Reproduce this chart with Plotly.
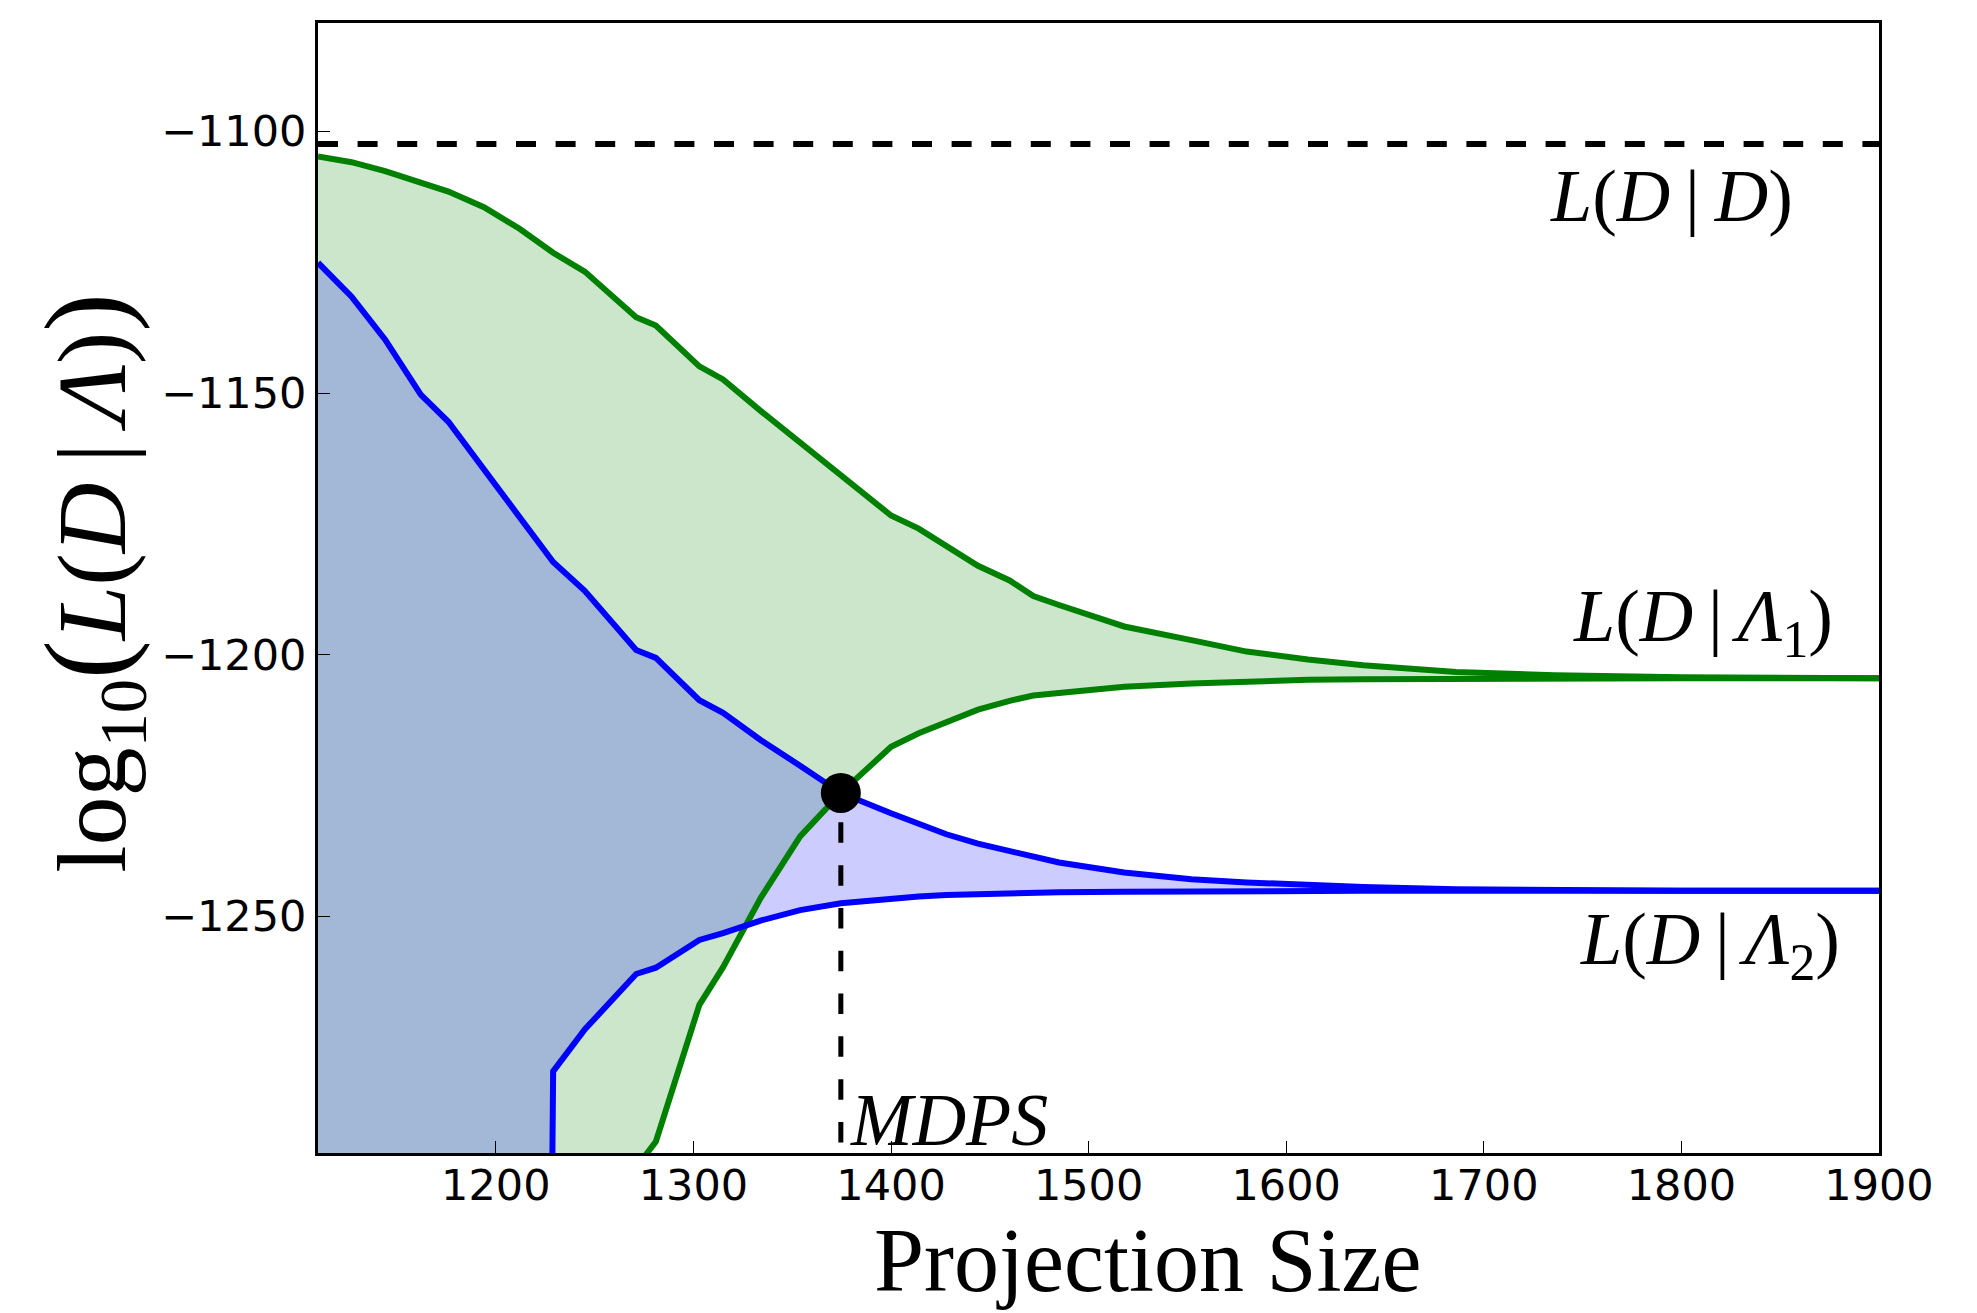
import plotly.graph_objects as go

# ---------------- data ----------------
proj_size = [1110, 1127, 1144, 1162, 1176, 1194, 1212, 1229, 1245, 1271, 1281,
             1303, 1315, 1334, 1354, 1374.6, 1400, 1414, 1428, 1444, 1460, 1472,
             1485, 1518, 1552, 1580, 1611, 1639, 1686, 1736, 1800, 1900]

lam1_upper = [-1104.8, -1105.9, -1107.6, -1109.8, -1111.5, -1114.5, -1118.6, -1123.2,
              -1126.8, -1135.5, -1137.1, -1144.9, -1147.4, -1153.4, -1159.5, -1165.5,
              -1173.4, -1175.9, -1179.3, -1183.0, -1185.8, -1188.8, -1190.5, -1194.6,
              -1197.2, -1199.4, -1200.9, -1202.0, -1203.3, -1203.9, -1204.3, -1204.5]

lam1_lower = [-1340, -1340, -1340, -1340, -1340, -1340, -1340, -1340,
              -1340, -1298.0, -1293.0, -1266.9, -1259.7, -1246.5, -1234.7, -1226.4,
              -1217.6, -1215.0, -1212.9, -1210.5, -1208.8, -1207.8, -1207.3, -1206.1,
              -1205.5, -1205.1, -1204.8, -1204.7, -1204.6, -1204.5, -1204.5, -1204.5]

lam2_upper = [-1125.1, -1131.6, -1139.8, -1150.3, -1155.5, -1164.6, -1173.7, -1182.3,
              -1187.8, -1199.1, -1200.6, -1208.7, -1211.1, -1216.3, -1221.2, -1226.4,
              -1230.3, -1232.2, -1234.3, -1236.1, -1237.5, -1238.6, -1239.7, -1241.6,
              -1242.9, -1243.5, -1244.0, -1244.4, -1244.8, -1245.0, -1245.1, -1245.1]

lam2_lower = [-2000, -2000, -2000, -2000, -2000, -2000, -2000, -1279.6,
              -1271.6, -1261.0, -1259.8, -1254.5, -1253.2, -1250.8, -1248.8, -1247.5,
              -1246.5, -1246.2, -1245.9, -1245.7, -1245.6, -1245.5, -1245.4, -1245.3,
              -1245.2, -1245.2, -1245.1, -1245.1, -1245.1, -1245.1, -1245.1, -1245.1]

data_likelihood = -1102.4          # L(D|D)
mdps_x = 1374.6                    # MDPS
mdps_y = -1226.4
dash_top = -1223.85

x_range = [1110, 1900]
y_range = [-1295.2, -1079.3]
x_ticks = [1200, 1300, 1400, 1500, 1600, 1700, 1800, 1900]
y_ticks = [-1250, -1200, -1150, -1100]

# ---------------- figure ----------------
GREEN = "#008000"
BLUE = "#0000ff"

fig = go.Figure()

# fills (green first, blue on top)
fig.add_trace(go.Scatter(
    x=proj_size + proj_size[::-1], y=lam1_upper + lam1_lower[::-1],
    fill="toself", fillcolor="rgba(0,128,0,0.2)", mode="lines",
    line=dict(width=0), hoverinfo="skip"))
fig.add_trace(go.Scatter(
    x=proj_size + proj_size[::-1], y=lam2_upper + lam2_lower[::-1],
    fill="toself", fillcolor="rgba(0,0,255,0.2)", mode="lines",
    line=dict(width=0), hoverinfo="skip"))

# L(D|D) dashed line
fig.add_trace(go.Scatter(x=x_range, y=[data_likelihood, data_likelihood], mode="lines",
                         line=dict(color="black", width=6, dash="20px,19.6px")))

# curves
for ys, col in [(lam1_upper, GREEN), (lam1_lower, GREEN), (lam2_upper, BLUE), (lam2_lower, BLUE)]:
    fig.add_trace(go.Scatter(x=proj_size, y=ys, mode="lines",
                             line=dict(color=col, width=6)))

# MDPS vertical dashed line + point
fig.add_trace(go.Scatter(x=[mdps_x, mdps_x], y=[dash_top, y_range[0]], mode="lines",
                         line=dict(color="black", width=5, dash="20.5px,22.3px")))
fig.add_trace(go.Scatter(x=[mdps_x], y=[mdps_y], mode="markers",
                         marker=dict(color="black", size=40, line=dict(width=0))))

serif = "Liberation Serif"
lab_size = 74
ts = "\u2009"
annotations = [
    dict(x=1794.8, y=-1112.4, text=f"<i>L</i>(<i>D</i>{ts}|{ts}<i>D</i>)"),
    dict(x=1811.0, y=-1193.6, text=f"<i>L</i>(<i>D</i>{ts}|{ts}<i>Λ</i><sub>1</sub>)"),
    dict(x=1814.5, y=-1255.3, text=f"<i>L</i>(<i>D</i>{ts}|{ts}<i>Λ</i><sub>2</sub>)"),
    dict(x=1429.5, y=-1288.8, text="<i>MDPS</i>"),
]
for a in annotations:
    fig.add_annotation(x=a["x"], y=a["y"], xref="x", yref="y", text=a["text"],
                       showarrow=False, xanchor="center", yanchor="middle",
                       font=dict(family=serif, size=lab_size, color="black"))

# axis titles as annotations for exact placement
fig.add_annotation(x=(1147 - 318) / 1561, y=(1153.5 - 1261.5) / 1130.5, xref="paper", yref="paper",
                   text="Projection Size", showarrow=False, xanchor="center", yanchor="middle",
                   font=dict(family=serif, size=90, color="black"))
fig.add_annotation(x=(92 - 318) / 1561, y=(1153.5 - 583) / 1130.5, xref="paper", yref="paper",
                   text=f"log<sub>10</sub><span style='font-size:116px'>(</span><i>L</i>(<i>D</i>{ts}|{ts}<i>Λ</i>)<span style='font-size:116px'>)</span>",
                   textangle=-90, showarrow=False, xanchor="center", yanchor="middle",
                   font=dict(family=serif, size=98, color="black"))

axis_common = dict(showgrid=False, zeroline=False, showline=True, linecolor="black",
                   linewidth=3, mirror=True, ticks="inside", ticklen=12, tickwidth=1.3,
                   tickcolor="black", automargin=False,
                   tickfont=dict(family="DejaVu Sans", size=43, color="black"))

fig.update_xaxes(range=x_range, tickvals=x_ticks, ticklabelstandoff=-8, **axis_common)
fig.update_yaxes(range=y_range, tickvals=y_ticks, **axis_common)

fig.update_layout(width=1977, height=1313, showlegend=False,
                  margin=dict(l=318, r=98, t=23, b=160),
                  plot_bgcolor="white", paper_bgcolor="white")

fig.write_html("out.html")
